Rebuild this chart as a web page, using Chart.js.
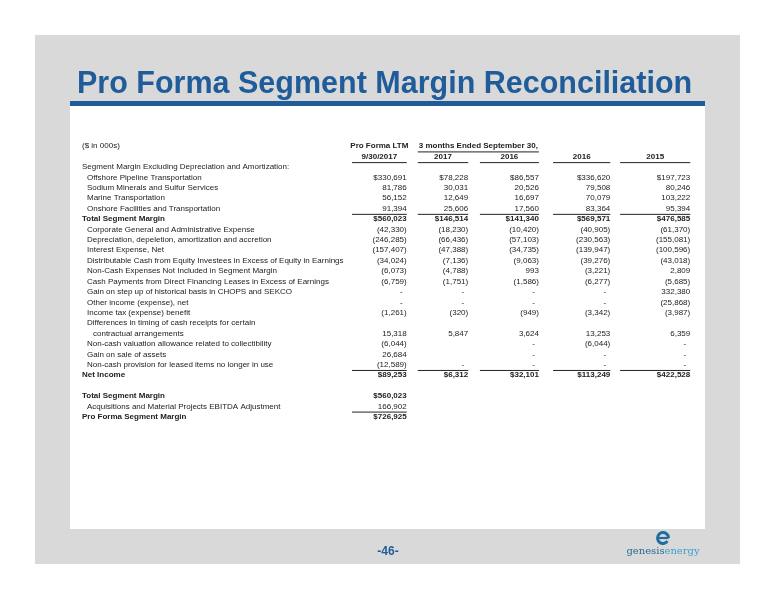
<!DOCTYPE html>
<html><head><meta charset="utf-8">
<script src="https://cdn.jsdelivr.net/npm/chart.js@4/dist/chart.umd.min.js"></script>
<style>html,body{margin:0;padding:0;background:#fff}#wrap{width:776px;height:600px;position:relative}</style>
</head><body><div id="wrap"><canvas id="c" width="776" height="600"></canvas></div>
<script>
const rowLabels = [
 "($ in 000s)", "", "Segment Margin Excluding Depreciation and Amortization:",
 "Offshore Pipeline Transportation","Sodium Minerals and Sulfur Services","Marine Transportation",
 "Onshore Facilities and Transportation","Total Segment Margin",
 "Corporate General and Administrative Expense","Depreciation, depeletion, amortization and accretion",
 "Interest Expense, Net","Distributable Cash from Equity Investees in Excess of Equity in Earnings",
 "Non-Cash Expenses Not Included in Segment Margin","Cash Payments from Direct Financing Leases in Excess of Earnings",
 "Gain on step up of historical basis in CHOPS and SEKCO","Other income (expense), net","Income tax (expense) benefit",
 "Differences in timing of cash receipts for certain","contractual arrangements",
 "Non-cash valuation allowance related to collectibility","Gain on sale of assets",
 "Non-cash provision for leased items no longer in use","Net Income","",
 "Total Segment Margin","Acquisitions and Material Projects EBITDA Adjustment","Pro Forma Segment Margin"];
const boldRows = [7,22,24,26];
const dollarRows = [3,7,22,24,26];
const indentRows = [3,4,5,6,8,9,10,11,12,13,14,15,16,17,19,20,21,25];
const deepIndentRows = [18];
const proFormaLTM = [null,null,null,330691,81786,56152,91394,560023,-42330,-246285,-157407,-34024,-6073,-6759,0,0,-1261,null,15318,-6044,26684,-12589,89253,null,560023,166902,726925];
const q3_2017 =     [null,null,null,78228,30031,12649,25606,146514,-18230,-66436,-47388,-7136,-4788,-1751,0,0,-320,null,5847,null,null,0,6312,null,null,null,null];
const q3_2016 =     [null,null,null,86557,20526,16697,17560,141340,-10420,-57103,-34735,-9063,993,-1586,0,0,-949,null,3624,0,0,0,32101,null,null,null,null];
const fy2016 =      [null,null,null,336620,79508,70079,83364,569571,-40905,-230563,-139947,-39276,-3221,-6277,0,0,-3342,null,13253,-6044,0,0,113249,null,null,null,null];
const fy2015 =      [null,null,null,197723,80246,103222,95394,476585,-61370,-155081,-100596,-43018,2809,-5685,332380,-25868,-3987,null,6359,0,0,0,422528,null,null,null,null];
const columns = [proFormaLTM,q3_2017,q3_2016,fy2016,fy2015];
const colHeadTop = ["Pro Forma LTM","","","",""];
const colHeadBottom = ["9/30/2017","2017","2016","2016","2015"];
const groupHeader = "3 months Ended September 30,";

// column geometry as fraction of the table width (right edge, underline start)
const colRight = [0.528,0.628,0.743,0.859,0.989];
const colLeft  = [0.439,0.546,0.647,0.766,0.875];

function fmt(v,r){
  if(v===null) return "";
  if(v===0) return "-";
  const s=Math.abs(v).toLocaleString('en-US');
  const d=dollarRows.includes(r)?"$":"";
  return v<0?"("+d+s+")":d+s;
}

const F='"Liberation Sans", Arial, sans-serif';
const slide={id:'slide',beforeDraw(ch){
  const c=ch.ctx;c.save();
  c.fillStyle='#fff';c.fillRect(0,0,776,600);
  c.fillStyle='#d9d9d9';c.fillRect(35,35,705,529);
  c.fillStyle='#fff';c.fillRect(70,106,635,423);
  c.fillStyle='#1f5c99';c.fillRect(70,101,635,5);
  c.font='bold 30.5px '+F;c.textBaseline='alphabetic';c.fillText('Pro Forma Segment Margin Reconciliation',77,93);
  c.font='bold 12px '+F;c.textAlign='center';c.fillText('-46-',388,555);
  // logo
  c.strokeStyle='#1f6e9e';c.lineWidth=3;c.beginPath();c.arc(663,538,5.5,0.2*Math.PI,2.0*Math.PI);c.stroke();
  c.lineWidth=2.2;c.beginPath();c.moveTo(658,538);c.lineTo(668.5,538);c.stroke();
  c.font='10px "DejaVu Serif", serif';c.textAlign='left';
  const g='genesis',e='energy';const wg=c.measureText(g).width,we=c.measureText(e).width;
  const x0=663-(wg+we)/2;c.fillStyle='#2a6a98';c.fillText(g,x0,554);c.fillStyle='#3d9fcf';c.fillText(e,x0+wg,554);
  c.restore();
}};
const table={id:'table',afterDraw(ch){
  const c=ch.ctx,ys=ch.scales.y,xs=ch.scales.x;c.save();
  const X=f=>xs.getPixelForValue(f*100);
  c.fillStyle='#222';c.strokeStyle='#222';c.textBaseline='middle';
  rowLabels.forEach((lab,r)=>{
    const y=ys.getPixelForValue(r);
    const b=boldRows.includes(r);
    c.font=(b?'bold ':'')+'8px '+F;c.textAlign='left';
    const x=xs.left+(indentRows.includes(r)?5:deepIndentRows.includes(r)?11:0);
    c.fillText(lab,x,y);
    c.textAlign='right';
    columns.forEach((col,k)=>{const t=fmt(col[r],r);if(t)c.fillText(t,X(colRight[k])-(t==='-'?4:0),y);});
  });
  const y0=ys.getPixelForValue(0),y1=ys.getPixelForValue(1);
  c.font='bold 8px '+F;c.textAlign='center';
  colHeadTop.forEach((t,k)=>{if(t)c.fillText(t,(X(colLeft[k])+X(colRight[k]))/2,y0);});
  colHeadBottom.forEach((t,k)=>c.fillText(t,(X(colLeft[k])+X(colRight[k]))/2,y1));
  c.fillText(groupHeader,(X(colLeft[1])+X(colRight[2]))/2,y0);
  c.lineWidth=1;
  const hl=(a,b,y)=>{c.beginPath();c.moveTo(a,y);c.lineTo(b,y);c.stroke();};
  hl(X(colLeft[1]),X(colRight[2]),(y0+y1)/2+0.5);
  const mid=(r)=>(ys.getPixelForValue(r)+ys.getPixelForValue(r-1))/2+0.5;
  columns.forEach((col,k)=>{
    const a=X(colLeft[k]),b=X(colRight[k]);
    hl(a,b,y1+6);hl(a,b,mid(7));hl(a,b,mid(22));
  });
  hl(X(colLeft[0]),X(colRight[0]),mid(26));
  c.restore();
}};
new Chart(document.getElementById('c'),{
  type:'scatter',
  data:{datasets:[{data:[],pointRadius:0}]},
  options:{responsive:false,animation:false,
    layout:{padding:{left:82,right:79,top:141,bottom:178}},
    plugins:{legend:{display:false},tooltip:{enabled:false}},
    scales:{
      x:{type:'linear',min:0,max:100,display:false},
      y:{type:'category',labels:rowLabels,offset:true,display:false}
    }},
  plugins:[slide,table]
});
</script></body></html>
